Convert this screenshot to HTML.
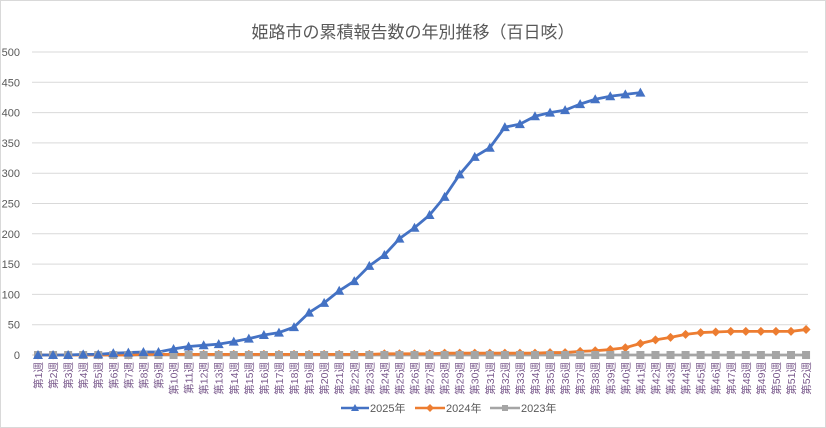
<!DOCTYPE html>
<html><head><meta charset="utf-8"><style>
html,body{margin:0;padding:0;background:#fff}
svg{display:block}
text{font-family:"Liberation Sans","Noto Sans CJK JP",sans-serif}
</style></head><body>
<svg id="c" width="826" height="428" xmlns="http://www.w3.org/2000/svg">
<rect x="0.5" y="0.5" width="825" height="427" fill="#fff" stroke="#d9d9d9"/>
<text x="413" y="38" text-anchor="middle" font-size="17" fill="#595959">姫路市の累積報告数の年別推移（百日咳）</text>
<g id="grid"></g>
<g id="series"></g>
<g id="labels"></g>
<g font-size="11" fill="#595959">
<line x1="341" y1="408" x2="369" y2="408" stroke="#4472c4" stroke-width="2.5"/><path d="M355 404 L359 411 L351 411Z" fill="#4472c4"/>
<text x="370" y="412">2025年</text>
<line x1="415" y1="408" x2="445" y2="408" stroke="#ed7d31" stroke-width="2.5"/><path d="M430 404 L434 408 L430 412 L426 408Z" fill="#ed7d31"/>
<text x="446" y="412">2024年</text>
<line x1="490" y1="408" x2="520" y2="408" stroke="#a5a5a5" stroke-width="2.5"/><rect x="502" y="405" width="6" height="6" fill="#a5a5a5"/>
<text x="521" y="412">2023年</text>
</g>
</svg>
<script>
var NS="http://www.w3.org/2000/svg";
function el(t,a,p,txt){var e=document.createElementNS(NS,t);for(var k in a)e.setAttribute(k,a[k]);if(txt!=null)e.textContent=txt;p.appendChild(e);return e;}
var g=document.getElementById('grid'),s=document.getElementById('series'),l=document.getElementById('labels');
function Y(v){return 355-v*0.606;}
function X(i){return 38+i*15.06;}
for(var v=0;v<=500;v+=50){
 el('line',{x1:32,x2:808,y1:Y(v),y2:Y(v),stroke:v==0?'#d0d0d0':'#d9d9d9','stroke-width':1},g);
 el('text',{x:20,y:Y(v)+4,'text-anchor':'end','font-size':11,fill:'#595959'},g,v);
}
var d23=[];for(var i=0;i<52;i++)d23.push(0);
var d24=[0,0,0,0,0,0,0,1,1,1,1,1,1,1,1,1,1,1,1,1,1,1,1,2,2,2,2,3,3,3,3,3,3,3,4,4,6,7,9,12,19,25,29,34,37,38,39,39,39,39,39,42];
var d25=[0,0,0,1,1,3,4,5,5,10,14,16,18,22,27,33,37,46,70,86,106,122,147,165,192,210,231,261,298,327,342,376,381,394,400,404,414,422,427,430,433];
function line(d,c){var p=d.map(function(v,i){return X(i)+','+Y(v)}).join(' ');el('polyline',{points:p,fill:'none',stroke:c,'stroke-width':2.8,'stroke-linejoin':'round'},s);}
line(d23,'#a5a5a5');line(d24,'#ed7d31');line(d25,'#4472c4');
d24.forEach(function(v,i){var x=X(i),y=Y(v);el('path',{d:'M'+x+' '+(y-4.5)+' L'+(x+4.5)+' '+y+' L'+x+' '+(y+4.5)+' L'+(x-4.5)+' '+y+'Z',fill:'#ed7d31'},s);});
d23.forEach(function(v,i){var x=X(i),y=Y(v);el('rect',{x:x-4,y:y-4,width:8,height:8,fill:'#a5a5a5'},s);});
d25.forEach(function(v,i){var x=X(i),y=Y(v);el('path',{d:'M'+x+' '+(y-5)+' L'+(x+5)+' '+(y+4)+' L'+(x-5)+' '+(y+4)+'Z',fill:'#4472c4'},s);});
for(var i=0;i<52;i++){var x=X(i)+4;
 el('text',{x:0,y:0,transform:'translate('+x+',362) rotate(-90)','text-anchor':'end','font-size':10.5,fill:'#7a5a8c'},l,'第'+(i+1)+'週');}
</script>
</body></html>
